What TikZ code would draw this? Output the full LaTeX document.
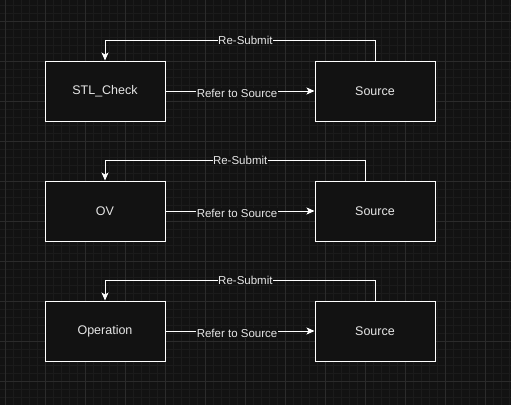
\documentclass[tikz,border=0pt]{standalone}
\usepackage{fontspec}
\setmainfont{Liberation Sans}
\usetikzlibrary{arrows.meta, positioning}
\definecolor{canvas}{HTML}{121212}
\definecolor{gridmin}{HTML}{1B1B1B}
\definecolor{gridmaj}{HTML}{2B2B2B}
\definecolor{inkgray}{HTML}{E6E6E6}

\begin{document}
\begin{tikzpicture}[x=1pt, y=-1pt,
  sbox/.style={draw=white, fill=canvas, line width=1pt, minimum width=120pt, minimum height=60pt, text=inkgray, font=\fontsize{12.5}{14}\selectfont},
  link/.style={draw=white, line width=1pt, -{Stealth[length=8pt, width=7pt, inset=2pt]}},
  tag/.style={fill=canvas, text=inkgray, inner sep=0.5pt, font=\fontsize{11.5}{13}\selectfont}
]
  % canvas and grid
  \useasboundingbox (0,0) rectangle (511,405);
  \fill[canvas] (0,0) rectangle (511,405);
  \foreach \x in {5,13,...,509} \draw[gridmin, line width=0.8pt] (\x,0) -- (\x,405);
  \foreach \y in {5,13,...,403} \draw[gridmin, line width=0.8pt] (0,\y) -- (511,\y);
  \foreach \x in {5,45,...,485} \draw[gridmaj, line width=1pt] (\x,0) -- (\x,405);
  \foreach \y in {21,61,...,381} \draw[gridmaj, line width=1pt] (0,\y) -- (511,\y);

  % row 1
  \node[sbox] (stl) at (105,91) {STL\_Check};
  \node[sbox] (src1) at (375,91) {Source};
  \draw[link] (stl) -- node[tag, pos=0.48, yshift=-2pt] {Refer to Source} (src1);
  \draw[link] (src1.north) -- ++(0,-20) -| node[tag, pos=0.24] {Re-Submit} (stl.north);

  % row 2
  \node[sbox] (ov) at (105,211) {OV};
  \node[sbox] (src2) at (375,211) {Source};
  \draw[link] (ov) -- node[tag, pos=0.48, yshift=-2pt] {Refer to Source} (src2);
  \draw[link] ([xshift=-10pt]src2.north) -- ++(0,-20) -| node[tag, pos=0.24] {Re-Submit} (ov.north);

  % row 3
  \node[sbox] (oper) at (105,331) {Operation};
  \node[sbox] (src3) at (375,331) {Source};
  \draw[link] (oper) -- node[tag, pos=0.48, yshift=-2pt] {Refer to Source} (src3);
  \draw[link] (src3.north) -- ++(0,-20) -| node[tag, pos=0.24] {Re-Submit} (oper.north);
\end{tikzpicture}
\end{document}
